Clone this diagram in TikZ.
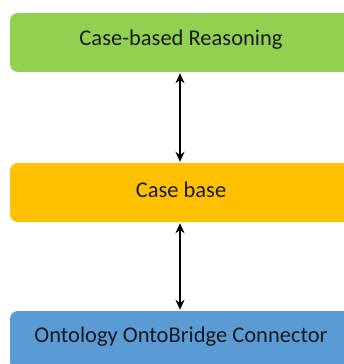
\documentclass[tikz,border=0pt]{standalone}
\usepackage{fontspec}
\setmainfont{Carlito}
\usetikzlibrary{arrows.meta}
\definecolor{cgreen}{HTML}{92D050}
\definecolor{cyellow}{HTML}{FFC000}
\definecolor{cblue}{HTML}{5B9BD5}
\definecolor{ctext}{HTML}{1A1A1A}
\tikzset{
  layerbox/.style={rounded corners=8pt, minimum width=342pt, minimum height=59pt,
    inner sep=0pt, text=ctext, draw=none},
  layertext/.style={text=ctext, font=\fontsize{22.5}{26}\selectfont, inner sep=0pt},
  link/.style={{Stealth[length=10pt,width=9pt]}-{Stealth[length=10pt,width=9pt]}, line width=1.8pt, black}
}
\begin{document}
\begin{tikzpicture}[x=1pt,y=1pt]
\useasboundingbox (0,0) rectangle (343,-364);
\node[layerbox, fill=cgreen] (cbr) at (181,-42.5) {};
\node[layerbox, fill=cyellow] (cb) at (181,-192.5) {};
\node[layerbox, fill=cblue] (onto) at (181,-340.5) {};
\node[layertext] (cbrt) at (181,-39.5) {Case-based Reasoning};
\node[layertext] (cbt) at (181,-189.5) {Case base};
\node[layertext] (ontot) at (181,-337) {Ontology OntoBridge Connector};
\draw[link] ([xshift=-1pt,yshift=-1pt]cbr.south) -- ([xshift=-1pt,yshift=1pt]cb.north);
\draw[link] ([xshift=-1pt,yshift=-1pt]cb.south) -- ([xshift=-1pt,yshift=1pt]onto.north);
\end{tikzpicture}
\end{document}
